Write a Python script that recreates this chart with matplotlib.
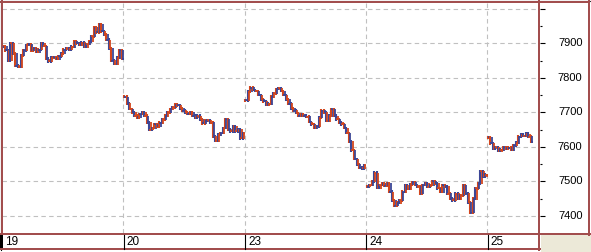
import matplotlib
matplotlib.use("Agg")
import matplotlib.pyplot as plt
from matplotlib.patches import Rectangle

plt.rcParams['font.family'] = ['Liberation Sans', 'DejaVu Sans']

# ---- data ----
day_labels = ["19", "20", "23", "24", "25"]
samples_per_day = 48

day19 = [7890, 7880, 7850, 7900, 7870, 7835, 7832, 7865, 7880, 7895, 7898, 7880,
         7885, 7875, 7882, 7900, 7892, 7855, 7848, 7858, 7860, 7855, 7862, 7870,
         7882, 7885, 7882, 7890, 7905, 7900, 7895, 7902, 7890, 7898, 7905, 7920,
         7945, 7932, 7955, 7935, 7925, 7910, 7885, 7850, 7840, 7858, 7880, 7855]
day20 = [7745, 7725, 7710, 7700, 7690, 7685, 7695, 7700, 7690, 7670, 7650, 7655,
         7665, 7660, 7670, 7680, 7690, 7700, 7710, 7715, 7722, 7720, 7712, 7705,
         7700, 7695, 7700, 7690, 7685, 7690, 7680, 7668, 7676, 7678, 7670, 7630,
         7618, 7635, 7640, 7655, 7680, 7650, 7645, 7660, 7645, 7650, 7625, 7640]
day23 = [7735, 7760, 7772, 7765, 7762, 7750, 7738, 7732, 7722, 7725, 7745, 7755,
         7768, 7770, 7762, 7750, 7738, 7725, 7712, 7705, 7698, 7690, 7695, 7690,
         7688, 7672, 7665, 7655, 7660, 7685, 7705, 7700, 7675, 7690, 7710, 7690,
         7680, 7670, 7665, 7655, 7640, 7615, 7590, 7565, 7550, 7540, 7538, 7548]
day24 = [7485, 7490, 7500, 7525, 7482, 7490, 7495, 7488, 7495, 7470, 7445, 7430,
         7438, 7445, 7470, 7490, 7478, 7492, 7498, 7490, 7485, 7465, 7490, 7495,
         7485, 7490, 7500, 7495, 7480, 7470, 7490, 7485, 7465, 7450, 7445, 7465,
         7450, 7460, 7490, 7465, 7440, 7410, 7450, 7480, 7495, 7530, 7515, 7520]
day25 = [7628, 7610, 7595, 7600, 7588, 7592, 7600, 7595, 7598, 7592, 7605, 7612,
         7630, 7635, 7632, 7638, 7630, 7615]
days = [day19, day20, day23, day24, day25]

y_ticks = [7400, 7500, 7600, 7700, 7800, 7900]

# ---- layout helpers ----
W, H = 591, 252
fig = plt.figure(figsize=(W / 100, H / 100), dpi=100)
fig.patch.set_facecolor("white")


def rect(l, t, r, b):
    return [l / W, 1 - b / H, (r - l) / W, (b - t) / H]


RED = "#d2461e"
BLUE = "#3c4696"
FRAME = "#a24e4e"
GRID = "#c0c0c0"

px_per_day = 121.25
plot_l, plot_t, plot_r, plot_b = 2, 2, 538, 233
ylo, yhi = 7350.8, 8019.6

ax = fig.add_axes(rect(plot_l, plot_t, plot_r, plot_b))
ax.set_xlim(0, (plot_r - plot_l) / px_per_day)
ax.set_ylim(ylo, yhi)
ax.axis("off")

for v in range(7400, 8001, 100):
    ax.axhline(v, color=GRID, lw=0.8, ls=(0, (4, 3)), zorder=1)
for d in range(1, 5):
    ax.axvline(d, color=GRID, lw=0.8, ls=(0, (4, 3)), zorder=1)

pad = 4.0
unit = 1.0 / px_per_day  # one pixel in day units
for d, vals in enumerate(days):
    prev = vals[0]
    for j, v in enumerate(vals):
        x = d + (j + 0.5) / samples_per_day
        up = v >= prev
        c1 = RED if (up == (j % 2 == 0)) else BLUE
        c2 = BLUE if c1 == RED else RED
        lo = min(prev, v) - pad
        hi = max(prev, v) + pad
        ax.vlines([x - 0.4 * unit], [lo], [hi], colors=[c1], lw=1.5, zorder=3)
        ax.vlines([x + 0.9 * unit], [min(v, prev) - pad * 0.6],
                  [max(v, prev) + pad * 0.2], colors=[c2], lw=1.3, zorder=3)
        ax.plot([x - 0.4 * unit, x + 1.8 * unit], [v, v], color=c2, lw=1.3,
                solid_capstyle="butt", zorder=3)
        prev = v

# ---- right price panel ----
rp = fig.add_axes(rect(540, plot_t, 588, plot_b))
rp.set_xlim(0, 48)
rp.set_ylim(ylo, yhi)
rp.axis("off")
for v in range(7400, 8001, 100):
    rp.plot([0, 5], [v, v], color="black", lw=0.8, solid_capstyle="butt")
for v in range(7450, 8000, 100):
    rp.plot([0, 2], [v, v], color="black", lw=0.8, solid_capstyle="butt")
for v in y_ticks:
    rp.text(42.5, v, str(v), ha="right", va="center", fontsize=8, color="black")

# ---- overlay for frame / date strip ----
ov = fig.add_axes([0, 0, 1, 1])
ov.set_xlim(0, W)
ov.set_ylim(H, 0)
ov.axis("off")
ov.patch.set_alpha(0)

ov.add_patch(Rectangle((541, 235), 50, 17, facecolor="#ece9d8", edgecolor="none"))
ov.plot([0, W], [0.5, 0.5], color="#303030", lw=0.8)
ov.plot([0, 589], [2, 2], color=FRAME, lw=1.44)
ov.plot([0.5, 0.5], [0, 250], color="black", lw=0.8)
ov.plot([2, 2], [0, 234], color=FRAME, lw=1.44)
ov.plot([539, 539], [0, 250], color=FRAME, lw=1.44)
ov.plot([588.5, 588.5], [0, 235], color=FRAME, lw=1.44)
ov.plot([0, 589.5], [234, 234], color=FRAME, lw=1.44)
ov.plot([0, 540], [249.3, 249.3], color=FRAME, lw=1.44)
ov.add_patch(Rectangle((0, 235), 3.3, 14, facecolor="black", edgecolor="none"))

for d, lab in enumerate(day_labels):
    px = plot_l + d * px_per_day
    if d > 0:
        ov.plot([px + 0.5, px + 0.5], [235, 248.5], color="black", lw=0.8)
    ov.text(px + 3.5, 242.3, lab, ha="left", va="center", fontsize=8.5, color="black")

fig.savefig("out.png", dpi=100)
